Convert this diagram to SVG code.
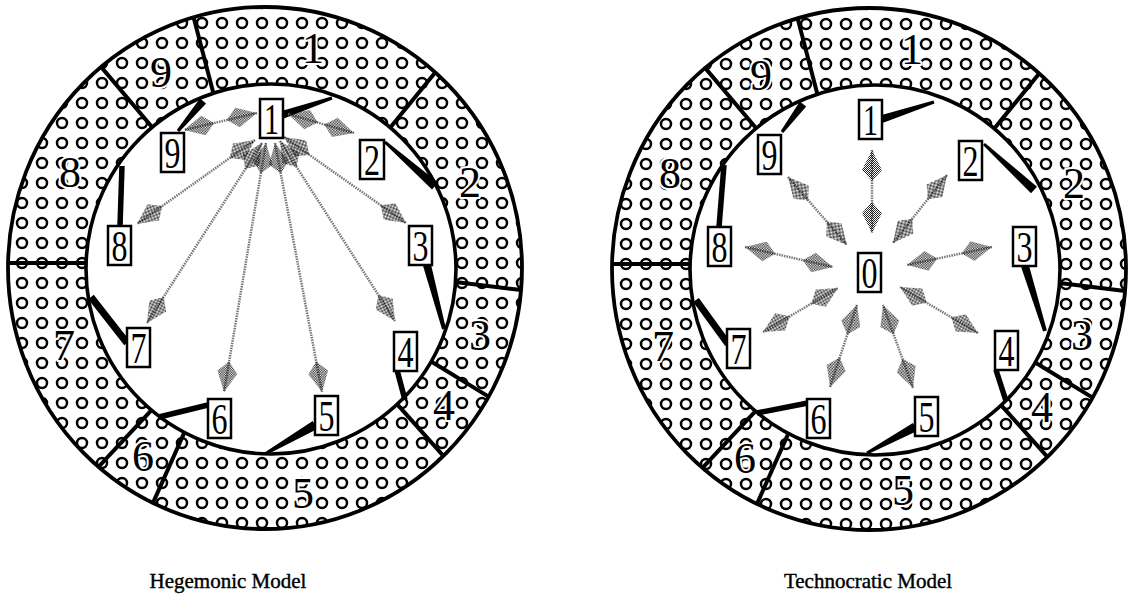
<svg xmlns="http://www.w3.org/2000/svg" width="1129" height="614" viewBox="0 0 1129 614">
<defs>
<pattern id="dots" width="20" height="20" patternUnits="userSpaceOnUse" x="-8" y="-7">
<circle cx="10" cy="10" r="5" fill="none" stroke="#000" stroke-width="2.5"/>
</pattern>
<pattern id="st" width="2" height="2" patternUnits="userSpaceOnUse">
<rect width="1" height="1" fill="#000"/><rect x="1" y="1" width="1" height="1" fill="#000"/>
</pattern>
<marker id="ah" viewBox="-32 -11 34 22" refX="0" refY="0" markerWidth="34" markerHeight="22" markerUnits="userSpaceOnUse" orient="auto-start-reverse">
<path d="M0,0 L-20,-10 L-31,0 L-20,10 Z" fill="url(#st)" opacity="0.85"/>
</marker>
<g id="ringbase">
<path fill-rule="evenodd" fill="url(#dots)" d="M8,268 a257,261 0 1 0 514,0 a257,261 0 1 0 -514,0 Z M86,269 a185,185 0 1 0 370,0 a185,185 0 1 0 -370,0 Z"/>
<g class="div">
<line x1="213.4" y1="93.2" x2="193.6" y2="17.3"/>
<line x1="390.3" y1="127.6" x2="435.2" y2="72.5"/>
<line x1="455.5" y1="282" x2="521.1" y2="290.1"/>
<line x1="431.2" y1="361.5" x2="488.6" y2="396.6"/>
<line x1="397.3" y1="404.3" x2="443.4" y2="455.9"/>
<line x1="184.4" y1="432.4" x2="153" y2="502.9"/>
<line x1="151.5" y1="410.2" x2="98.5" y2="466.8"/>
<line x1="86.1" y1="263" x2="8.1" y2="263"/>
<line x1="152.2" y1="127.2" x2="101.1" y2="66.9"/>
</g>
<ellipse cx="265" cy="268" rx="257" ry="261" fill="none" stroke="#000" stroke-width="3.8"/>
<circle cx="271" cy="269" r="185" fill="none" stroke="#000" stroke-width="3.6"/>
</g>
</defs>
<style>
.div line{stroke:#000;stroke-width:4}
.rl{font-family:"Liberation Serif","Times New Roman",serif;font-size:44px;fill:#000;stroke:#fff;stroke-width:4px;paint-order:stroke;stroke-linejoin:round;text-anchor:middle}
.bx rect{fill:#fff;stroke:#000;stroke-width:2.5}
.bx text{font-family:"Liberation Serif","Times New Roman",serif;font-size:44px;fill:#000;text-anchor:middle}
.cn line{stroke:#000;stroke-width:5.5}
.cn polygon{fill:#000}
.ar line{stroke:#777;stroke-width:2.5;stroke-dasharray:1.5 1;marker-start:url(#ah);marker-end:url(#ah)}
.cap{font-family:"Liberation Serif","Times New Roman",serif;font-size:21px;fill:#000;stroke:#000;stroke-width:0.4px;text-anchor:middle}
</style>
<rect width="1129" height="614" fill="#fff"/>

<!-- Left diagram ring -->
<g id="hegemonic-ring">
<use href="#ringbase"/>
<text class="rl" x="313" y="63">1</text>
<text class="rl" x="470" y="197">2</text>
<text class="rl" x="480" y="350">3</text>
<text class="rl" x="444" y="420">4</text>
<text class="rl" x="303" y="508">5</text>
<text class="rl" x="143" y="471">6</text>
<text class="rl" x="64" y="360">7</text>
<text class="rl" x="70" y="187">8</text>
<text class="rl" x="161" y="87">9</text>
</g>

<!-- Right diagram ring -->
<g id="technocratic-ring">
<use href="#ringbase" transform="translate(604,1)"/>
<text class="rl" x="912" y="64">1</text>
<text class="rl" x="1074" y="198">2</text>
<text class="rl" x="1082" y="350">3</text>
<text class="rl" x="1042" y="422">4</text>
<text class="rl" x="903" y="505">5</text>
<text class="rl" x="745" y="473">6</text>
<text class="rl" x="663" y="361">7</text>
<text class="rl" x="670" y="188">8</text>
<text class="rl" x="761" y="90">9</text>
</g>

<!-- Connectors -->
<g id="connectors">
<g class="cn">
<polygon points="283.3,118.8 332.5,99.4 331.5,96.6 280.7,111.2"/>
<polygon points="384,143.1 432,189.4 438,182.6 386,140.9"/>
<polygon points="423.1,266 442.1,329.5 445.9,328.5 430.9,264"/>
<line x1="397" y1="370" x2="405" y2="400"/>
<polygon points="312.7,421.1 264.2,452.7 265.8,455.3 317.3,428.9"/>
<line x1="208" y1="405" x2="159" y2="417"/>
<line x1="127" y1="343" x2="91" y2="297" style="stroke-width:7"/>
<line x1="120" y1="226" x2="122" y2="166"/>
<polygon points="179.2,132 206.1,103.6 199.9,98.4 176.8,130"/>
<polygon points="883.2,122.8 934.5,103.4 933.5,100.6 880.8,115.2"/>
<polygon points="983,145.1 1031,193.3 1037,186.7 985,142.9"/>
<polygon points="1021.2,267.2 1043.1,331.6 1046.9,330.4 1028.8,264.8"/>
<line x1="996" y1="370" x2="1006" y2="401"/>
<polygon points="912.9,423 866.3,451.7 867.7,454.3 917.1,431"/>
<line x1="808" y1="403" x2="757" y2="413"/>
<line x1="728" y1="344" x2="696" y2="300" style="stroke-width:7"/>
<line x1="719" y1="227" x2="724" y2="165"/>
<polygon points="783.2,132.9 806.2,106.4 799.8,101.6 780.8,131.1"/>
</g>
<g class="ar">
<line x1="257" y1="113" x2="184" y2="130"/>
<line x1="288" y1="114" x2="354" y2="133"/>
<line x1="255" y1="140" x2="137" y2="224"/>
<line x1="262" y1="143" x2="147" y2="323"/>
<line x1="266" y1="143" x2="224" y2="392"/>
<line x1="275" y1="143" x2="322" y2="392"/>
<line x1="280" y1="141" x2="395" y2="321"/>
<line x1="284" y1="137" x2="406" y2="223"/>
<line x1="872" y1="150" x2="872" y2="233"/>
<line x1="947" y1="175" x2="893" y2="243"/>
<line x1="992" y1="247" x2="907" y2="265"/>
<line x1="978" y1="333" x2="900" y2="287"/>
<line x1="913" y1="388" x2="883" y2="305"/>
<line x1="830" y1="387" x2="857" y2="305"/>
<line x1="763" y1="332" x2="838" y2="288"/>
<line x1="745" y1="247" x2="833" y2="267"/>
<line x1="788" y1="177" x2="847" y2="245"/>
</g>
</g>

<!-- Left boxes -->
<g id="h1" class="bx"><rect x="260" y="99" width="23" height="39"/><text x="271.5" y="134" textLength="15" lengthAdjust="spacingAndGlyphs">1</text></g>
<g id="h2" class="bx"><rect x="360" y="140" width="24" height="39"/><text x="372" y="175" textLength="16" lengthAdjust="spacingAndGlyphs">2</text></g>
<g id="h3" class="bx"><rect x="409" y="226" width="23" height="39"/><text x="420.5" y="261" textLength="16" lengthAdjust="spacingAndGlyphs">3</text></g>
<g id="h4" class="bx"><rect x="394" y="332" width="23" height="39"/><text x="405.5" y="367" textLength="16" lengthAdjust="spacingAndGlyphs">4</text></g>
<g id="h5" class="bx"><rect x="315" y="396" width="23" height="39"/><text x="326.5" y="431" textLength="16" lengthAdjust="spacingAndGlyphs">5</text></g>
<g id="h6" class="bx"><rect x="208" y="399" width="23" height="39"/><text x="219.5" y="434" textLength="16" lengthAdjust="spacingAndGlyphs">6</text></g>
<g id="h7" class="bx"><rect x="127" y="328" width="23" height="39"/><text x="138.5" y="363" textLength="16" lengthAdjust="spacingAndGlyphs">7</text></g>
<g id="h8" class="bx"><rect x="108" y="226" width="23" height="39"/><text x="119.5" y="261" textLength="16" lengthAdjust="spacingAndGlyphs">8</text></g>
<g id="h9" class="bx"><rect x="161" y="133" width="23" height="39"/><text x="172.5" y="168" textLength="16" lengthAdjust="spacingAndGlyphs">9</text></g>

<!-- Right boxes -->
<g id="t0" class="bx"><rect x="858" y="253" width="23" height="39"/><text x="869.5" y="288" textLength="16" lengthAdjust="spacingAndGlyphs">0</text></g>
<g id="t1" class="bx"><rect x="859" y="100" width="23" height="39"/><text x="870.5" y="135" textLength="15" lengthAdjust="spacingAndGlyphs">1</text></g>
<g id="t2" class="bx"><rect x="959" y="141" width="23" height="39"/><text x="970.5" y="176" textLength="16" lengthAdjust="spacingAndGlyphs">2</text></g>
<g id="t3" class="bx"><rect x="1013" y="227" width="23" height="39"/><text x="1024.5" y="262" textLength="16" lengthAdjust="spacingAndGlyphs">3</text></g>
<g id="t4" class="bx"><rect x="995" y="331" width="23" height="39"/><text x="1006.5" y="366" textLength="16" lengthAdjust="spacingAndGlyphs">4</text></g>
<g id="t5" class="bx"><rect x="915" y="397" width="23" height="39"/><text x="926.5" y="432" textLength="16" lengthAdjust="spacingAndGlyphs">5</text></g>
<g id="t6" class="bx"><rect x="807" y="399" width="23" height="39"/><text x="818.5" y="434" textLength="16" lengthAdjust="spacingAndGlyphs">6</text></g>
<g id="t7" class="bx"><rect x="727" y="329" width="23" height="39"/><text x="738.5" y="364" textLength="16" lengthAdjust="spacingAndGlyphs">7</text></g>
<g id="t8" class="bx"><rect x="708" y="227" width="23" height="39"/><text x="719.5" y="262" textLength="16" lengthAdjust="spacingAndGlyphs">8</text></g>
<g id="t9" class="bx"><rect x="758" y="135" width="23" height="39"/><text x="769.5" y="170" textLength="16" lengthAdjust="spacingAndGlyphs">9</text></g>

<text class="cap" x="228" y="588">Hegemonic Model</text>
<text class="cap" x="868" y="588">Technocratic Model</text>
</svg>
